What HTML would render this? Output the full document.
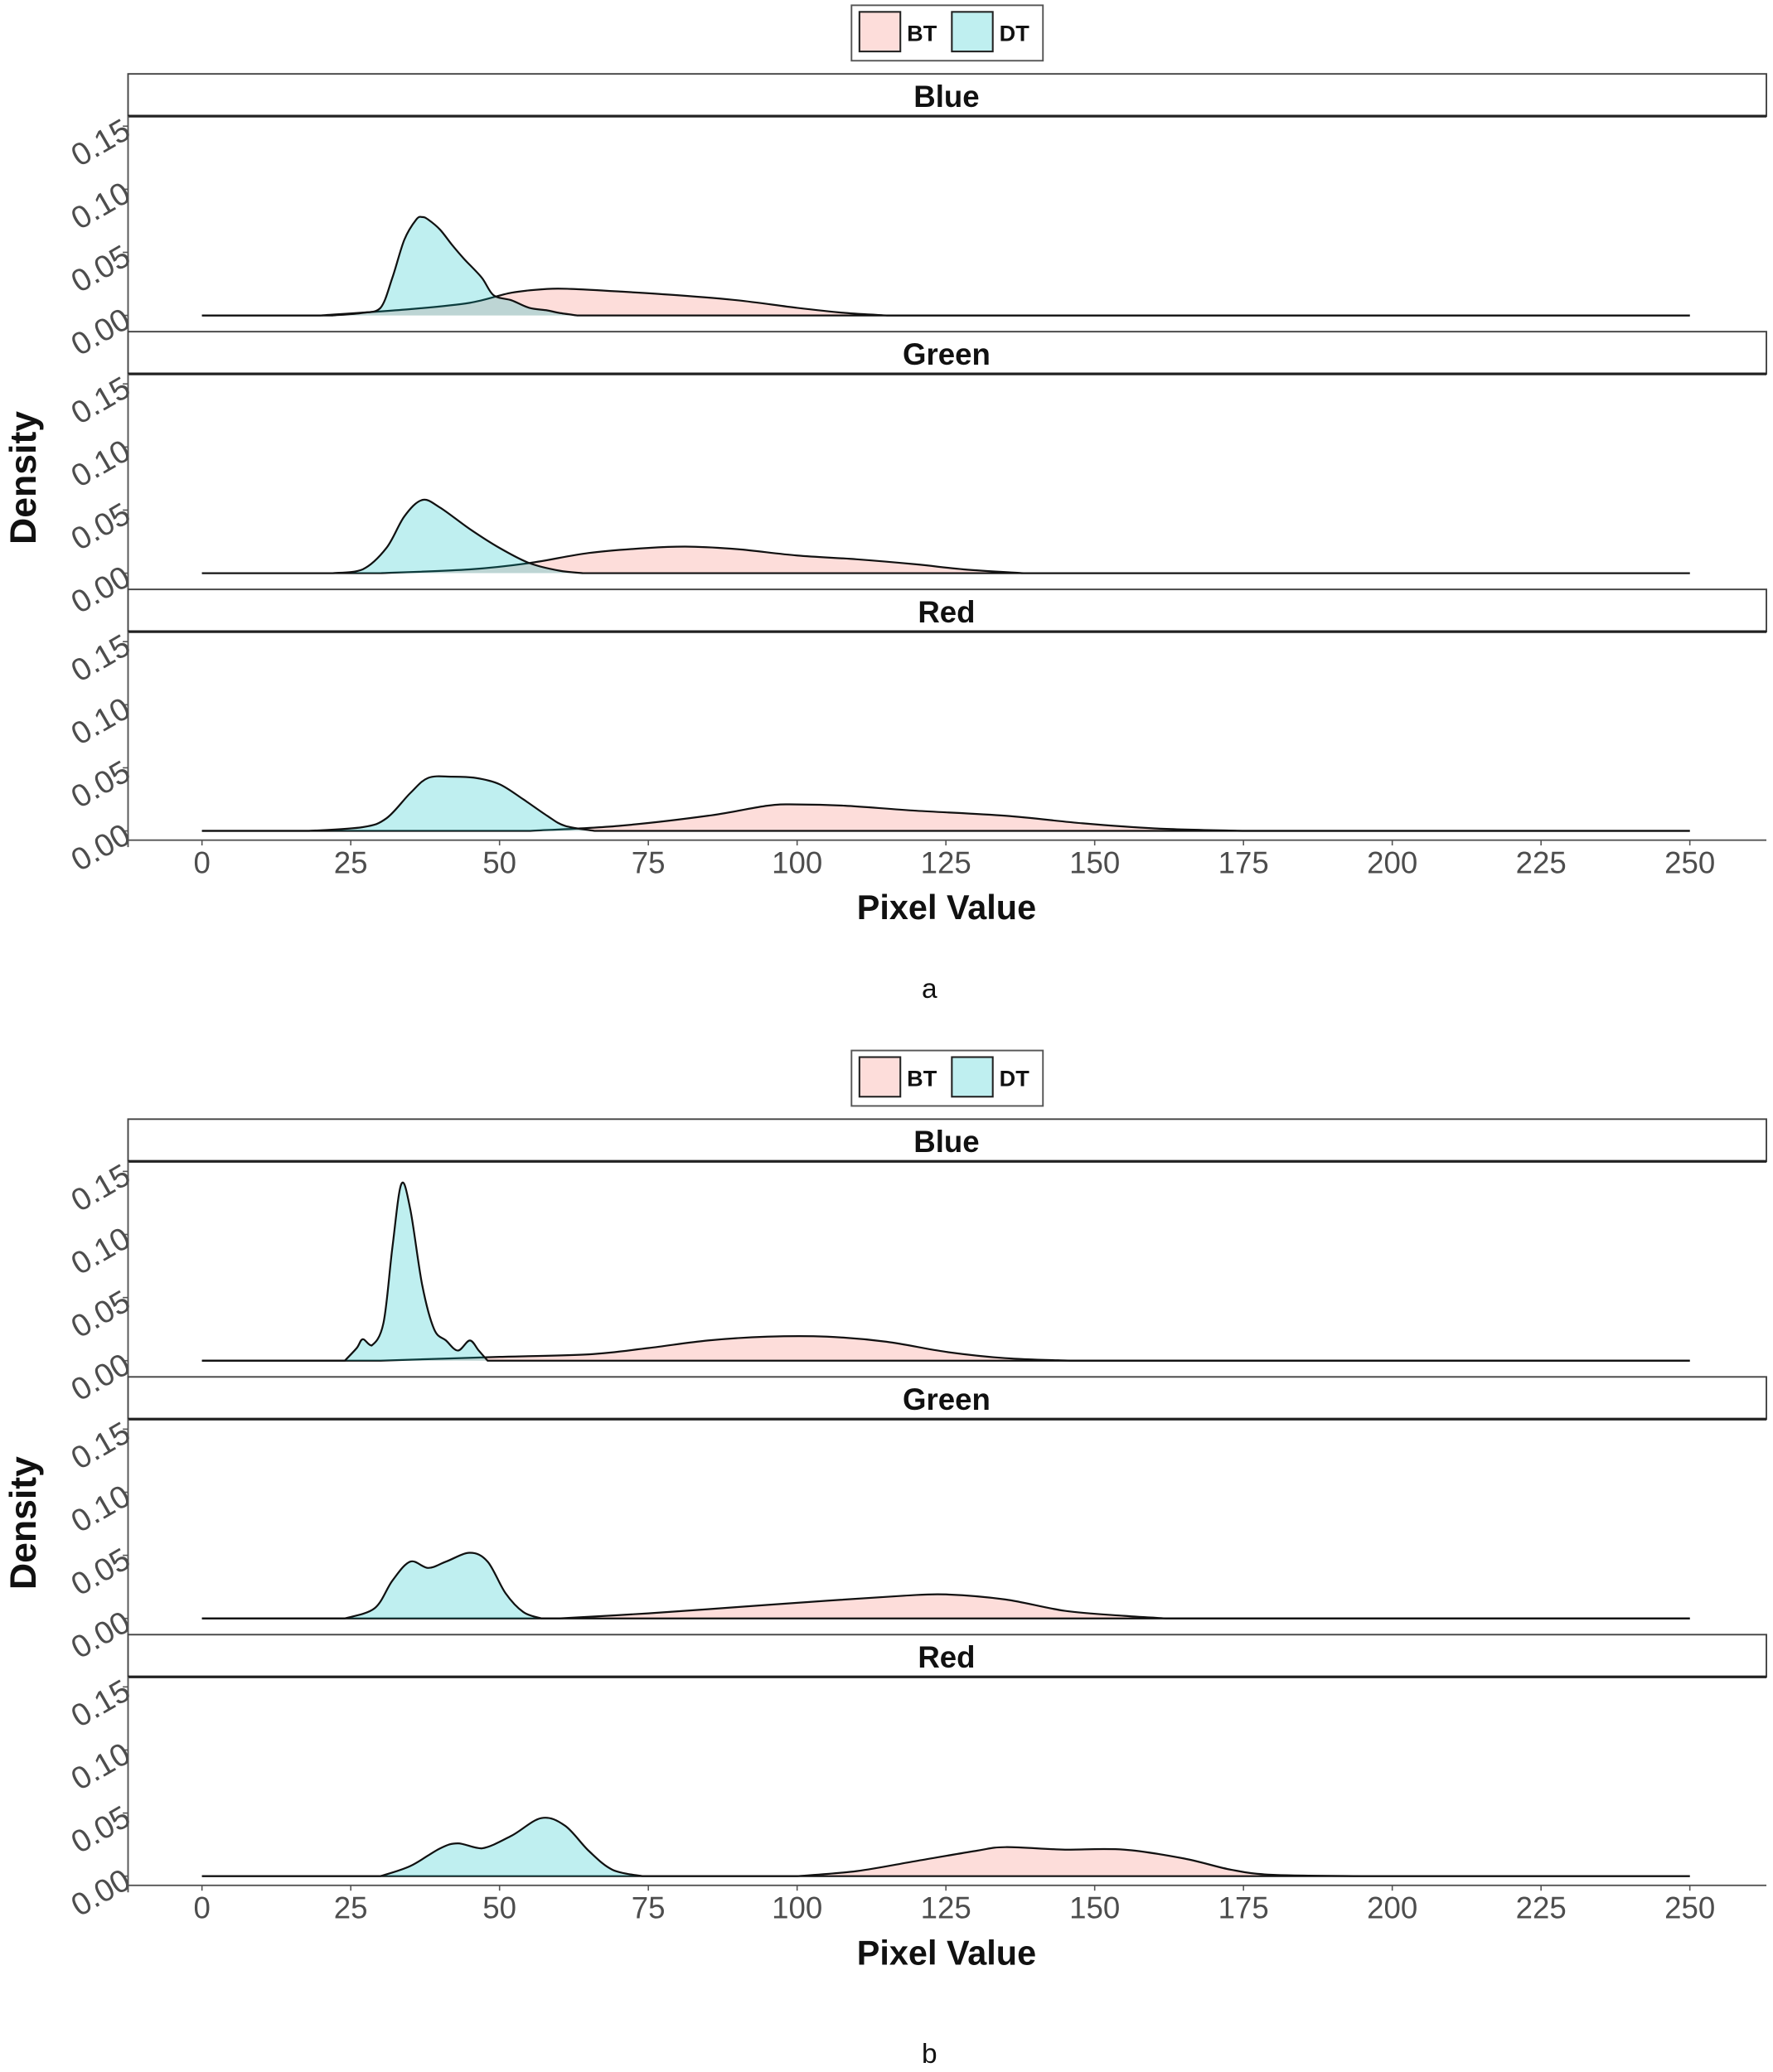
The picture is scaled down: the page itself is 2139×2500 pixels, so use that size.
<!DOCTYPE html>
<html><head><meta charset="utf-8"><style>
html,body{margin:0;padding:0;background:#fff}
svg{display:block}
text{font-family:"Liberation Sans",Arial,sans-serif}
</style></head><body>
<svg id="fig" width="2139" height="2500" viewBox="0 0 1343 1570" preserveAspectRatio="none" xmlns="http://www.w3.org/2000/svg"></svg>
<script>
// ---- data (pixel value, density) ----
const xTicks = [0,25,50,75,100,125,150,175,200,225,250];
const yTicks = [0,0.05,0.10,0.15];
const yTickLabels = ["0.00","0.05","0.10","0.15"];
const channels = ["Blue","Green","Red"];
const groups = ["BT","DT"];

const aBlueDTx = [22,27,30,32,34,36,37,38,40,42,44,47,49,52,55,58,60,63];
const aBlueDTy = [0,0.002,0.006,0.03,0.06,0.076,0.078,0.076,0.068,0.056,0.045,0.03,0.016,0.012,0.006,0.004,0.002,0];
const aBlueBTx = [20,35,45,52,58,62,70,80,90,100,108,115];
const aBlueBTy = [0,0.005,0.01,0.018,0.021,0.021,0.019,0.016,0.012,0.006,0.002,0];
const aGreenDTx = [22,27,31,34,37,40,45,50,55,60,64];
const aGreenDTy = [0,0.003,0.02,0.045,0.058,0.052,0.035,0.02,0.008,0.002,0];
const aGreenBTx = [30,45,55,65,75,82,90,100,110,120,128,138];
const aGreenBTy = [0,0.003,0.008,0.016,0.02,0.021,0.019,0.014,0.011,0.007,0.003,0];
const aRedDTx = [18,27,31,35,38,42,46,50,54,58,61,66];
const aRedDTy = [0,0.003,0.01,0.03,0.042,0.043,0.042,0.037,0.025,0.012,0.004,0];
const aRedBTx = [55,70,85,95,100,108,120,135,148,160,175];
const aRedBTy = [0,0.004,0.012,0.02,0.021,0.02,0.016,0.012,0.006,0.002,0];

const bBlueDTx = [24,26,27,28.5,30.5,32,33.5,35,37,39,41,43,45,46.5,48];
const bBlueDTy = [0,0.01,0.017,0.012,0.03,0.09,0.14,0.12,0.06,0.025,0.016,0.008,0.016,0.008,0];
const bBlueBTx = [30,50,65,75,85,95,105,115,125,135,146];
const bBlueBTy = [0,0.003,0.005,0.01,0.016,0.019,0.019,0.015,0.007,0.002,0];
const bGreenDTx = [24,29,32,35,38,41,45,48,51,54,57];
const bGreenDTy = [0,0.008,0.03,0.045,0.04,0.045,0.052,0.045,0.02,0.005,0];
const bGreenBTx = [60,75,90,105,118,125,135,145,155,162];
const bGreenBTy = [0,0.004,0.009,0.014,0.018,0.019,0.015,0.006,0.002,0];
const bRedDTx = [30,35,40,43,47,52,57,61,65,69,74];
const bRedDTy = [0,0.008,0.022,0.026,0.022,0.032,0.046,0.04,0.02,0.005,0];
const bRedBTx = [100,110,120,130,135,145,155,165,173,180,195];
const bRedBTy = [0,0.004,0.012,0.02,0.023,0.021,0.021,0.014,0.005,0.001,0];

const chartA = [[aBlueBTx,aBlueBTy,aBlueDTx,aBlueDTy],[aGreenBTx,aGreenBTy,aGreenDTx,aGreenDTy],[aRedBTx,aRedBTy,aRedDTx,aRedDTy]];
const chartB = [[bBlueBTx,bBlueBTy,bBlueDTx,bBlueDTy],[bGreenBTx,bGreenBTy,bGreenDTx,bGreenDTy],[bRedBTx,bRedBTy,bRedDTx,bRedDTy]];

const NS="http://www.w3.org/2000/svg";
const svg=document.getElementById('fig');
function mk(tag,attrs,parent){const e=document.createElementNS(NS,tag);for(const k in attrs)e.setAttribute(k,attrs[k]);(parent||svg).appendChild(e);return e;}
const X0=153, X1=1280;
function sx(v){return X0+(v-0)/(250-0)*(X1-X0);}
const YPX=47.8/0.05;
function smoothPath(pts){
  let d="M"+pts[0][0]+","+pts[0][1];
  for(let i=0;i<pts.length-1;i++){
    const p0=pts[Math.max(0,i-1)],p1=pts[i],p2=pts[i+1],p3=pts[Math.min(pts.length-1,i+2)];
    const c1x=p1[0]+(p2[0]-p0[0])/6,c1y=p1[1]+(p2[1]-p0[1])/6;
    const c2x=p2[0]-(p3[0]-p1[0])/6,c2y=p2[1]-(p3[1]-p1[1])/6;
    d+=" C"+c1x+","+Math.min(c1y,Math.max(p1[1],p2[1]))+" "+c2x+","+Math.min(c2y,Math.max(p1[1],p2[1]))+" "+p2[0]+","+p2[1];
  }
  return d;
}
const fills={BT:"#F8766D",DT:"#00BFC4"};

function drawChart(off,data,letter){
  const g=mk('g',{});
  
  
  const lg=mk('g',{},g);
  
  
  mk('rect',{x:645,y:off+4,width:145,height:42,fill:'#fff',stroke:'#555','stroke-width':1.2},lg);
  const lkx=[651,721],lbl=["BT","DT"];
  for(let i=0;i<2;i++){
    const r=mk('rect',{x:lkx[i],y:off+9,width:31,height:30,fill:fills[lbl[i]],'fill-opacity':0.25,stroke:'#222','stroke-width':1.3},lg);
    
    
    const t=mk('text',{x:lkx[i]+36,y:off+31,'font-size':17,'font-weight':'bold',fill:'#111'},lg);t.textContent=lbl[i];
    
    
  }
  for(let p=0;p<3;p++){
    const st=off+56+p*195.3;
    const base=st+183;
    const pg=mk('g',{},g);
    
    
    const sr=mk('rect',{x:97,y:st,width:1241,height:32,fill:'#fff',stroke:'#444','stroke-width':1.2},pg);
    
    
    mk('line',{x1:97,x2:1338,y1:st+32,y2:st+32,stroke:'#222','stroke-width':2},pg);
    const stx=mk('text',{x:717,y:st+25,'text-anchor':'middle','font-size':23,'font-weight':'bold',fill:'#111'},pg);stx.textContent=channels[p];
    
    
    mk('line',{x1:97,x2:97,y1:st+32,y2:st+195.3,stroke:'#555','stroke-width':1.2},pg);
    for(let k=0;k<yTicks.length;k++){
      const y=base-yTicks[k]*YPX;
      mk('line',{x1:93,x2:97,y1:y,y2:y,stroke:'#555','stroke-width':1},pg);
      const t=mk('text',{x:96,y:y+9,'text-anchor':'end','font-size':24,fill:'#4d4d4d',transform:'rotate(-30 96 '+(y)+')'},pg);
      t.textContent=yTickLabels[k];
      
      
    }
    const d=data[p];
    for(let s=0;s<2;s++){
      const xs=d[s*2],ys=d[s*2+1];
      const pts=xs.map((v,i)=>[sx(v),base-ys[i]*YPX]);
      const body=smoothPath(pts);
      const area=body+" L"+sx(xs[xs.length-1])+","+base+" L"+sx(xs[0])+","+base+" Z";
      const a=mk('path',{d:area,fill:fills[groups[s]],'fill-opacity':0.25,stroke:'none'},pg);
      
      
      const line=mk('path',{d:"M"+sx(0)+","+base+" L"+sx(xs[0])+","+base+" "+body.slice(1)+" L"+sx(250)+","+base,fill:'none',stroke:'#111','stroke-width':1.4},pg);
      
      
    }
    if(p===2){
      const axb=base+7;
      mk('line',{x1:97,x2:1338,y1:axb,y2:axb,stroke:'#555','stroke-width':1.2},pg);
      for(const v of xTicks){
        mk('line',{x1:sx(v),x2:sx(v),y1:axb,y2:axb+4,stroke:'#555','stroke-width':1},pg);
        const t=mk('text',{x:sx(v),y:axb+25,'text-anchor':'middle','font-size':23,fill:'#4d4d4d'},pg);t.textContent=v;
        
        
      }
      const xt=mk('text',{x:717,y:axb+60,'text-anchor':'middle','font-size':26,'font-weight':'bold',fill:'#111'},g);xt.textContent="Pixel Value";
      
      
    }
  }
  const yt=mk('text',{x:27,y:off+362,'text-anchor':'middle','font-size':28,'font-weight':'bold',fill:'#111',transform:'rotate(-90 27 '+(off+362)+')'},g);yt.textContent="Density";
  
  
}
drawChart(0,chartA,'a');
drawChart(792,chartB,'b');
const la=mk('text',{x:704,y:756,'text-anchor':'middle','font-size':21,fill:'#111'});la.textContent="a";


const lb=mk('text',{x:704,y:1563,'text-anchor':'middle','font-size':21,fill:'#111'});lb.textContent="b";


</script>
</body></html>
